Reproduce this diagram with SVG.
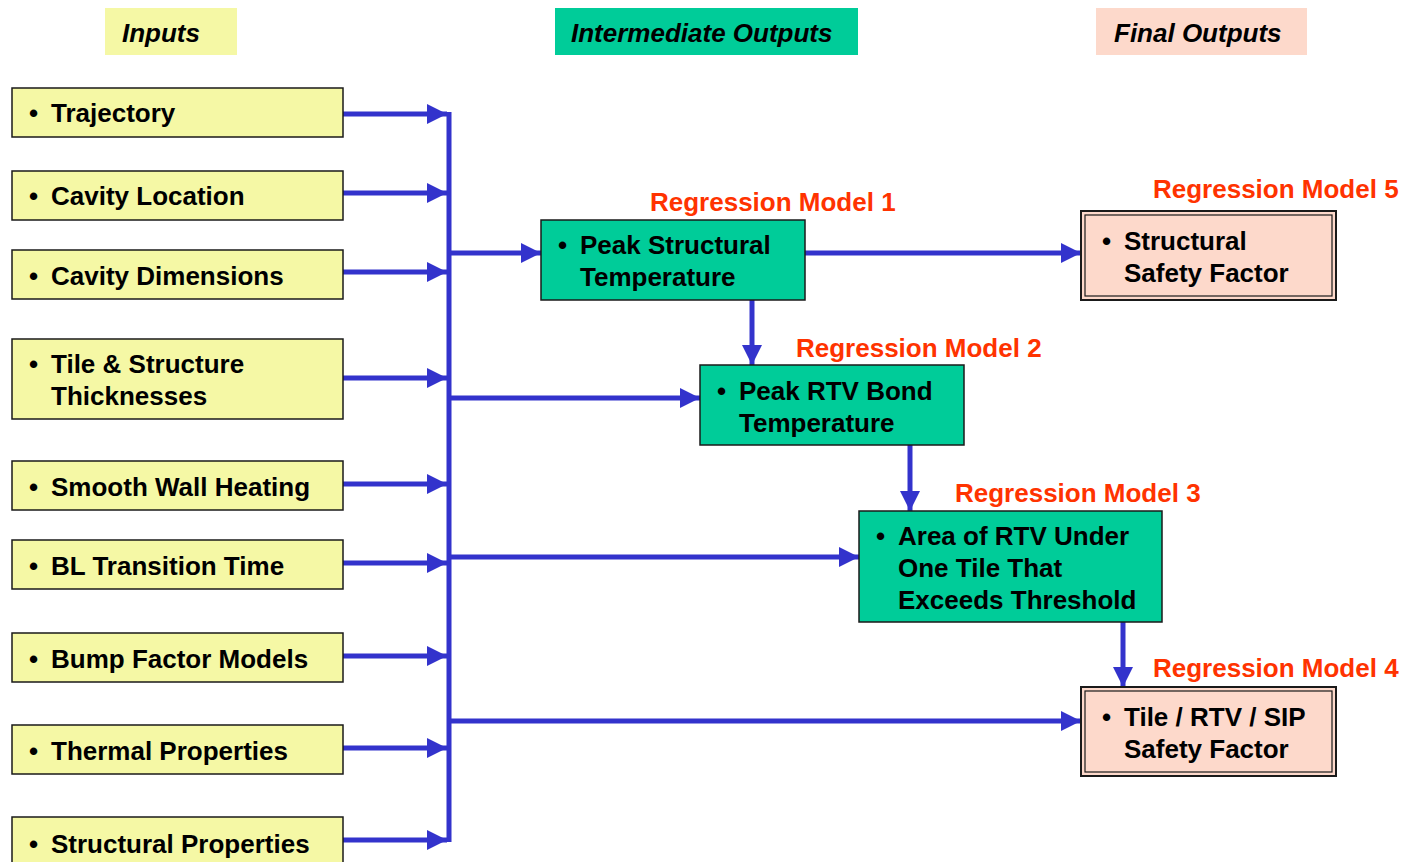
<svg xmlns="http://www.w3.org/2000/svg" width="1408" height="862" viewBox="0 0 1408 862">
<defs>
<marker id="ah" markerUnits="userSpaceOnUse" markerWidth="20" markerHeight="20" viewBox="0 0 20 20" refX="20" refY="10" orient="auto">
<path d="M0,0 L20,10 L0,20 Z" fill="#3333CC"/>
</marker>
<style>
text{font-family:"Liberation Sans",Arial,sans-serif;font-weight:bold;font-size:26px;fill:#000}
.hdr{font-style:italic}
.reg{fill:#FF3300}
.inp{fill:#F5F8A5;stroke:#1a1a1a;stroke-width:1.5}
.mid{fill:#00CC99;stroke:#1a1a1a;stroke-width:1.5}
.fin{fill:#FDD9CB;stroke:#1a1a1a;stroke-width:2}
.fin2{fill:none;stroke:#1a1a1a;stroke-width:1.2}
.c{stroke:#3333CC;stroke-width:5;fill:none}
.ca{stroke:#3333CC;stroke-width:5;fill:none;marker-end:url(#ah)}
</style>
</defs>
<rect width="1408" height="862" fill="#fff"/>
<g id="headers">
<rect x="105" y="8" width="132" height="47" fill="#F5F8A5"/>
<text class="hdr" x="122" y="42">Inputs</text>
<rect x="555" y="8" width="303" height="47" fill="#00CC99"/>
<text class="hdr" x="571" y="42">Intermediate Outputs</text>
<rect x="1096" y="8" width="211" height="47" fill="#FDD9CB"/>
<text class="hdr" x="1114" y="42">Final Outputs</text>
</g>
<g id="connectors">
<line class="c" x1="449" y1="112" x2="449" y2="842"/>
<line class="ca" x1="343" y1="114" x2="447" y2="114"/>
<line class="ca" x1="343" y1="193" x2="447" y2="193"/>
<line class="ca" x1="343" y1="272" x2="447" y2="272"/>
<line class="ca" x1="343" y1="378" x2="447" y2="378"/>
<line class="ca" x1="343" y1="484" x2="447" y2="484"/>
<line class="ca" x1="343" y1="563" x2="447" y2="563"/>
<line class="ca" x1="343" y1="656" x2="447" y2="656"/>
<line class="ca" x1="343" y1="748" x2="447" y2="748"/>
<line class="ca" x1="343" y1="840" x2="447" y2="840"/>
<line class="ca" x1="449" y1="253" x2="541" y2="253"/>
<line class="ca" x1="449" y1="398" x2="700" y2="398"/>
<line class="ca" x1="449" y1="557" x2="859" y2="557"/>
<line class="ca" x1="449" y1="721" x2="1081" y2="721"/>
<line class="ca" x1="805" y1="253" x2="1081" y2="253"/>
<line class="ca" x1="752" y1="300" x2="752" y2="365"/>
<line class="ca" x1="910" y1="445" x2="910" y2="511"/>
<line class="ca" x1="1123" y1="622" x2="1123" y2="687"/>
</g>
<g id="in-trajectory"><rect class="inp" x="12" y="88" width="331" height="49"/><text x="29" y="122">•<tspan x="51">Trajectory</tspan></text></g>
<g id="in-cavity-location"><rect class="inp" x="12" y="171" width="331" height="49"/><text x="29" y="205">•<tspan x="51">Cavity Location</tspan></text></g>
<g id="in-cavity-dimensions"><rect class="inp" x="12" y="250" width="331" height="49"/><text x="29" y="285">•<tspan x="51">Cavity Dimensions</tspan></text></g>
<g id="in-thicknesses"><rect class="inp" x="12" y="339" width="331" height="80"/><text x="29" y="373">•<tspan x="51">Tile &amp; Structure</tspan></text><text x="51" y="405">Thicknesses</text></g>
<g id="in-smooth-wall"><rect class="inp" x="12" y="461" width="331" height="49"/><text x="29" y="496">•<tspan x="51">Smooth Wall Heating</tspan></text></g>
<g id="in-bl-transition"><rect class="inp" x="12" y="540" width="331" height="49"/><text x="29" y="575">•<tspan x="51">BL Transition Time</tspan></text></g>
<g id="in-bump-factor"><rect class="inp" x="12" y="633" width="331" height="49"/><text x="29" y="668">•<tspan x="51">Bump Factor Models</tspan></text></g>
<g id="in-thermal"><rect class="inp" x="12" y="725" width="331" height="49"/><text x="29" y="760">•<tspan x="51">Thermal Properties</tspan></text></g>
<g id="in-structural"><rect class="inp" x="12" y="817" width="331" height="49"/><text x="29" y="853">•<tspan x="51">Structural Properties</tspan></text></g>
<g id="mid-peak-structural"><text class="reg" x="650" y="211">Regression Model 1</text><rect class="mid" x="541" y="220" width="264" height="80"/><text x="558" y="254">•<tspan x="580">Peak Structural</tspan></text><text x="580" y="286">Temperature</text></g>
<g id="mid-peak-rtv"><text class="reg" x="796" y="357">Regression Model 2</text><rect class="mid" x="700" y="365" width="264" height="80"/><text x="717" y="400">•<tspan x="739">Peak RTV Bond</tspan></text><text x="739" y="432">Temperature</text></g>
<g id="mid-area"><text class="reg" x="955" y="502">Regression Model 3</text><rect class="mid" x="859" y="511" width="303" height="111"/><text x="876" y="545">•<tspan x="898">Area of RTV Under</tspan></text><text x="898" y="577">One Tile That</text><text x="898" y="609">Exceeds Threshold</text></g>
<g id="fin-structural-sf"><text class="reg" x="1153" y="198">Regression Model 5</text><rect class="fin" x="1081" y="211" width="255" height="89"/><rect class="fin2" x="1085" y="215" width="247" height="81"/><text x="1102" y="250">•<tspan x="1124">Structural</tspan></text><text x="1124" y="282">Safety Factor</text></g>
<g id="fin-tile-sf"><text class="reg" x="1153" y="677">Regression Model 4</text><rect class="fin" x="1081" y="687" width="255" height="89"/><rect class="fin2" x="1085" y="691" width="247" height="81"/><text x="1102" y="726">•<tspan x="1124">Tile / RTV / SIP</tspan></text><text x="1124" y="758">Safety Factor</text></g>
</svg>
